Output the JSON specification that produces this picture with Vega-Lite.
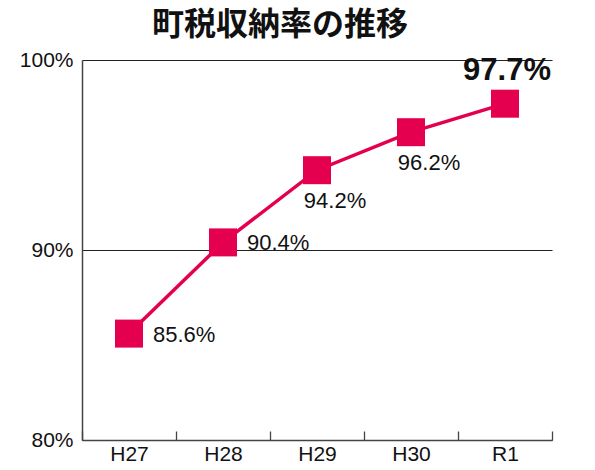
{
  "$schema": "https://vega.github.io/schema/vega-lite/v6.json",
  "width": 470,
  "height": 380,
  "autosize": {"type": "none"},
  "padding": {"left": 82, "top": 60, "right": 43, "bottom": 30},
  "background": "white",
  "title": {
    "text": "町税収納率の推移",
    "font": "Noto Sans CJK JP",
    "fontSize": 32,
    "fontWeight": "bold",
    "color": "#111",
    "anchor": "middle",
    "dx": -37,
    "offset": 7
  },
  "data": {
    "values": [
      {"year": "H27", "rate": 85.6, "label": "85.6%"},
      {"year": "H28", "rate": 90.4, "label": "90.4%"},
      {"year": "H29", "rate": 94.2, "label": "94.2%"},
      {"year": "H30", "rate": 96.2, "label": "96.2%"},
      {"year": "R1", "rate": 97.7, "label": "97.7%"}
    ]
  },
  "config": {
    "view": {"stroke": null},
    "font": "Liberation Sans"
  },
  "encoding": {
    "x": {
      "field": "year",
      "type": "nominal",
      "sort": null,
      "scale": {"paddingInner": 0, "paddingOuter": 0},
      "axis": {
        "title": null,
        "labelAngle": 0,
        "labelFontSize": 21,
        "labelColor": "#111",
        "labelFont": "Liberation Sans",
        "tickBand": "extent",
        "tickSize": -9,
        "tickColor": "#444",
        "tickWidth": 1.3,
        "domainColor": "#444",
        "domainWidth": 1.5,
        "labelPadding": 12
      }
    },
    "y": {
      "field": "rate",
      "type": "quantitative",
      "scale": {"domain": [80, 100], "nice": false, "zero": false},
      "axis": {
        "title": null,
        "values": [80, 90, 100],
        "labelExpr": "datum.value + '%'",
        "labelFontSize": 21,
        "labelColor": "#111",
        "labelFont": "Liberation Sans",
        "ticks": false,
        "labelPadding": 9,
        "grid": true,
        "gridColor": "#222",
        "gridWidth": 1.2,
        "domainColor": "#444",
        "domainWidth": 1.5
      }
    }
  },
  "layer": [
    {
      "mark": {"type": "line", "color": "#e5004f", "strokeWidth": 3.5}
    },
    {
      "mark": {"type": "square", "color": "#e5004f", "opacity": 1, "filled": true, "size": 784}
    },
    {
      "transform": [{"filter": "datum.year == 'H27' || datum.year == 'H28'"}],
      "mark": {"type": "text", "align": "left", "baseline": "middle", "dx": 24, "dy": 1, "fontSize": 22, "color": "#111", "font": "Liberation Sans"},
      "encoding": {"text": {"field": "label", "type": "nominal"}}
    },
    {
      "transform": [{"filter": "datum.year == 'H29' || datum.year == 'H30'"}],
      "mark": {"type": "text", "align": "center", "baseline": "middle", "dx": 18, "dy": 31, "fontSize": 22, "color": "#111", "font": "Liberation Sans"},
      "encoding": {"text": {"field": "label", "type": "nominal"}}
    },
    {
      "transform": [{"filter": "datum.year == 'R1'"}],
      "mark": {"type": "text", "align": "center", "baseline": "middle", "dx": 2, "dy": -33, "fontSize": 31, "fontWeight": "bold", "color": "#111", "font": "Liberation Sans"},
      "encoding": {"text": {"field": "label", "type": "nominal"}}
    }
  ]
}
